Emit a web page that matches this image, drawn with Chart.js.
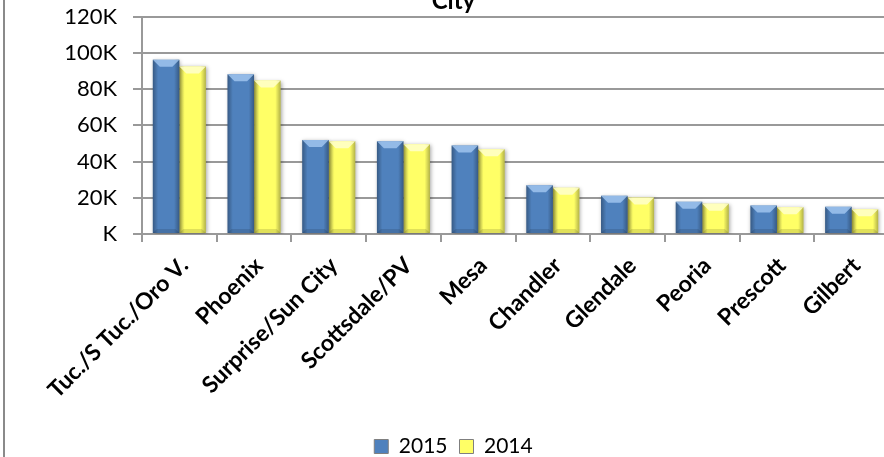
<!DOCTYPE html>
<html>
<head>
<meta charset="utf-8">
<script src="https://cdn.jsdelivr.net/npm/chart.js@4.4.1/dist/chart.umd.min.js"></script>
<style>
  html, body { margin: 0; padding: 0; background: #fff; }
  body { width: 884px; height: 457px; overflow: hidden; position: relative; }
  #frame { position: absolute; left: 3px; top: -10px; width: 2px; height: 480px; background: #8a8a8a; }
  #wrap { position: absolute; left: 0; top: -20px; width: 910px; height: 487px; }
</style>
</head>
<body>
<div id="frame"></div>
<div id="wrap"><canvas id="cityChart"></canvas></div>
<script>
// ----- DATA -----
const cities = ['Tuc./S Tuc./Oro V.', 'Phoenix', 'Surprise/Sun City', 'Scottsdale/PV', 'Mesa',
                'Chandler', 'Glendale', 'Peoria', 'Prescott', 'Gilbert'];
const values2015 = [96300, 88200, 52000, 51300, 48900, 26900, 21100, 17800, 15700, 15000];
const values2014 = [92600, 84800, 51300, 49600, 46800, 25600, 20200, 16700, 14800, 13700];
const yTicks = [0, 20000, 40000, 60000, 80000, 100000, 120000];

const FONT = 'Lato, "Open Sans", sans-serif';

// shadow under the bars, then bevel overlay on top
const bevelPlugin = {
    id: 'bevel',
    beforeDatasetDraw(chart) {
        const ctx = chart.ctx;
        ctx.save();
        ctx.shadowColor = 'rgba(0,0,0,0.35)';
        ctx.shadowBlur = 4;
        ctx.shadowOffsetX = 1;
        ctx.shadowOffsetY = 1;
    },
    afterDatasetDraw(chart) {
        chart.ctx.restore();
    },
    afterDatasetsDraw(chart) {
        const ctx = chart.ctx;
        chart.data.datasets.forEach((ds, i) => {
            const meta = chart.getDatasetMeta(i);
            meta.data.forEach(bar => {
                const l = bar.x - bar.width / 2, r = bar.x + bar.width / 2;
                const t = bar.y, b = bar.base;
                const w = r - l;
                ctx.save();
                // side shading
                const g = ctx.createLinearGradient(l, 0, r, 0);
                g.addColorStop(0, 'rgba(0,0,0,0.3)');
                g.addColorStop(0.2, 'rgba(0,0,0,0)');
                g.addColorStop(0.8, 'rgba(0,0,0,0)');
                g.addColorStop(1, 'rgba(0,0,0,0.3)');
                ctx.fillStyle = g;
                ctx.fillRect(l, t, w, b - t);
                // top bevel
                const bv = Math.min(7, (b - t) / 2);
                ctx.beginPath();
                ctx.moveTo(l, t);
                ctx.lineTo(r, t);
                ctx.lineTo(r - bv, t + bv);
                ctx.lineTo(l + bv, t + bv);
                ctx.closePath();
                ctx.fillStyle = ds.bevelColor;
                ctx.fill();
                // bottom bevel
                ctx.beginPath();
                ctx.moveTo(l, b);
                ctx.lineTo(r, b);
                ctx.lineTo(r - 4, b - 4);
                ctx.lineTo(l + 4, b - 4);
                ctx.closePath();
                ctx.fillStyle = 'rgba(0,0,0,0.12)';
                ctx.fill();
                ctx.restore();
            });
        });
    }
};

const ctx = document.getElementById('cityChart').getContext('2d');
new Chart(ctx, {
    type: 'bar',
    data: {
        labels: cities,
        datasets: [
            { label: '2015', data: values2015, backgroundColor: '#4f81bd', borderWidth: 0, bevelColor: 'rgba(170,205,245,0.75)' },
            { label: '2014', data: values2014, backgroundColor: '#ffff66', borderWidth: 0, bevelColor: 'rgba(255,255,205,0.85)' }
        ]
    },
    options: {
        responsive: true,
        maintainAspectRatio: false,
        animation: false,
        layout: { padding: { left: 18, right: 21, top: 0, bottom: 0 } },
        datasets: { bar: { categoryPercentage: 0.71, barPercentage: 1 } },
        plugins: {
            title: {
                display: true,
                text: 'City',
                color: '#000',
                font: { family: FONT, size: 24, weight: 'bold' },
                padding: { top: 7, bottom: 1 }
            },
            legend: {
                position: 'bottom',
                labels: {
                    color: '#000',
                    font: { family: FONT, size: 21 },
                    boxWidth: 14,
                    boxHeight: 14,
                    padding: 12,
                    generateLabels(chart) {
                        return chart.data.datasets.map((ds, i) => ({
                            text: ds.label,
                            fillStyle: ds.backgroundColor,
                            strokeStyle: '#7f7f7f',
                            lineWidth: 1,
                            datasetIndex: i
                        }));
                    }
                }
            },
            tooltip: { enabled: false }
        },
        scales: {
            x: {
                grid: { display: true, drawOnChartArea: false, offset: true, color: '#999', lineWidth: 2, tickLength: 8 },
                border: { display: true, color: '#999', width: 2 },
                ticks: {
                    color: '#000',
                    font: { family: FONT, size: 23, weight: 'bold' },
                    minRotation: 45,
                    maxRotation: 45,
                    autoSkip: false,
                    labelOffset: 5,
                    padding: 10
                },
                afterFit(scale) { scale.height = 190; }
            },
            y: {
                min: 0,
                max: 120000,
                afterBuildTicks(scale) { scale.ticks = yTicks.map(v => ({ value: v })); },
                grid: { color: '#999', lineWidth: 2, tickLength: 9 },
                border: { display: true, color: '#999', width: 2 },
                ticks: {
                    color: '#000',
                    font: { family: FONT, size: 22 },
                    padding: 16,
                    callback: v => v === 0 ? 'K' : (v / 1000) + 'K'
                },
                afterFit(scale) { scale.width = 124; }
            }
        }
    },
    plugins: [bevelPlugin]
});
</script>
</body>
</html>
